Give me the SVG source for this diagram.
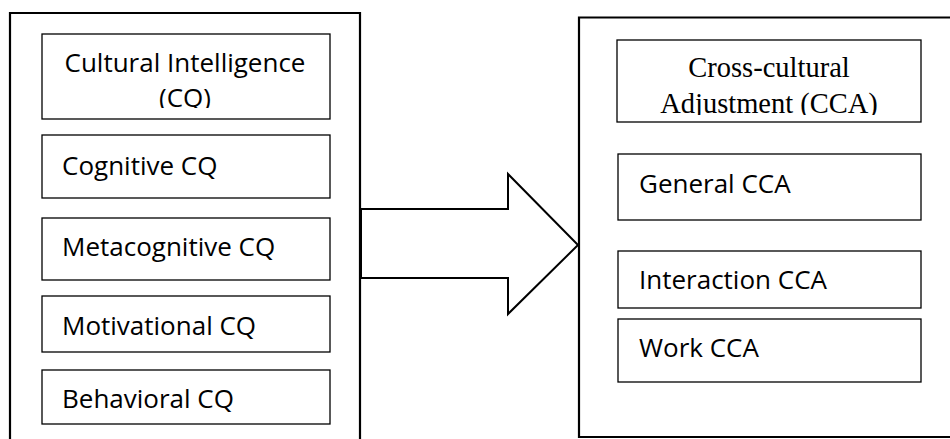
<svg xmlns="http://www.w3.org/2000/svg" width="950" height="439" viewBox="0 0 950 439">
<style>
.outer{fill:none;stroke:#000;stroke-width:2.2}
.inner{fill:#fff;stroke:#000;stroke-width:1.3}
.sans{font-family:"Open Sans","Noto Sans",sans-serif;font-size:26px;fill:#000}
.serif{font-family:"Liberation Serif","Times New Roman",serif;font-size:28.5px;fill:#000}
</style>
<defs>
<clipPath id="clipCQ"><rect x="42" y="34" width="288" height="74"/></clipPath>
<clipPath id="clipCCA"><rect x="617" y="40" width="304" height="75"/></clipPath>
</defs>
<rect width="950" height="439" fill="#fff"/>
<g id="left-panel">
<path class="outer" d="M10,445 V13 H360 V445"/>
</g>
<g id="right-panel">
<path class="outer" d="M960,17.5 H579 V437 H960"/>
</g>
<g id="connectors">
<polygon points="361,209 508,209 508,174 578,245 508,314 508,278 361,278" fill="#fff" stroke="#000" stroke-width="2"/>
</g>
<g id="cq-title">
<rect class="inner" x="42" y="34" width="288" height="85"/>
<g clip-path="url(#clipCQ)">
<text class="sans" x="185" y="72" text-anchor="middle">Cultural Intelligence</text>
<text class="sans" x="185" y="107" text-anchor="middle">(CQ)</text>
</g>
</g>
<g id="cognitive-cq">
<rect class="inner" x="42" y="135" width="288" height="63"/>
<text class="sans" x="62" y="175">Cognitive CQ</text>
</g>
<g id="metacognitive-cq">
<rect class="inner" x="42" y="218" width="288" height="62"/>
<text class="sans" x="62" y="256">Metacognitive CQ</text>
</g>
<g id="motivational-cq">
<rect class="inner" x="42" y="296" width="288" height="56"/>
<text class="sans" x="62" y="335">Motivational CQ</text>
</g>
<g id="behavioral-cq">
<rect class="inner" x="42" y="370" width="288" height="54"/>
<text class="sans" x="62" y="408">Behavioral CQ</text>
</g>
<g id="cca-title">
<rect class="inner" x="617" y="40" width="304" height="82"/>
<g clip-path="url(#clipCCA)">
<text class="serif" x="769" y="77" text-anchor="middle">Cross-cultural</text>
<text class="serif" x="769" y="113" text-anchor="middle">Adjustment (CCA)</text>
</g>
</g>
<g id="general-cca">
<rect class="inner" x="618" y="154" width="303" height="66"/>
<text class="sans" x="639" y="193">General CCA</text>
</g>
<g id="interaction-cca">
<rect class="inner" x="618" y="251" width="303" height="57"/>
<text class="sans" x="639" y="289">Interaction CCA</text>
</g>
<g id="work-cca">
<rect class="inner" x="618" y="319" width="303" height="63"/>
<text class="sans" x="639" y="357">Work CCA</text>
</g>
</svg>
